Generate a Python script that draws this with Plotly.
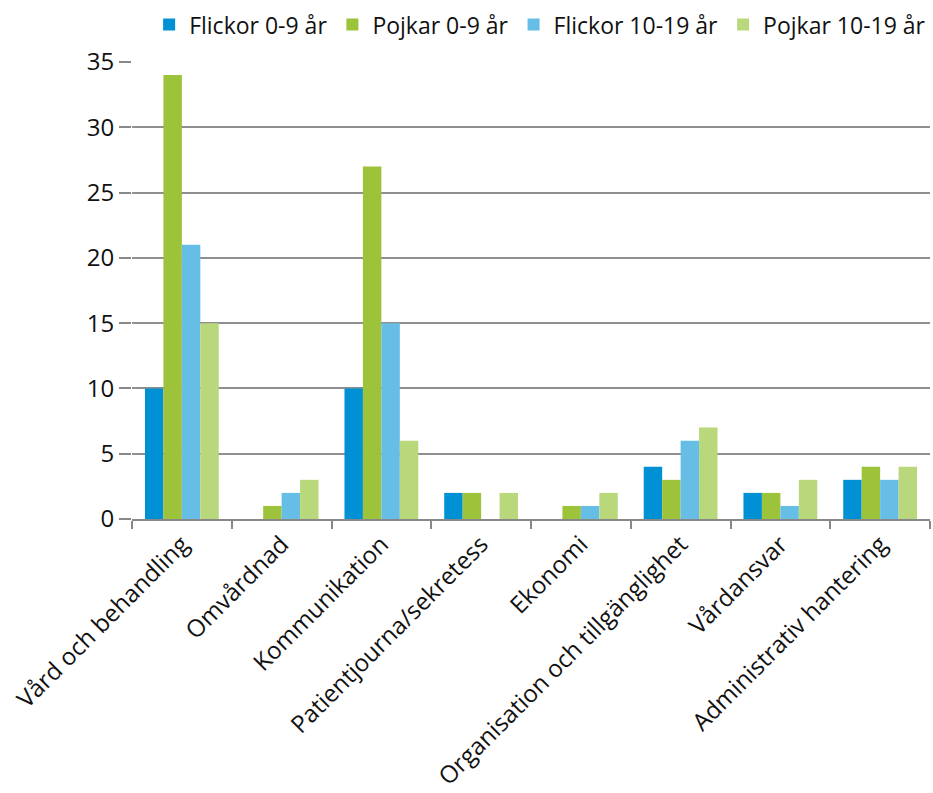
import plotly.graph_objects as go

categories = ["Vård och behandling", "Omvårdnad", "Kommunikation", "Patientjourna/sekretess",
              "Ekonomi", "Organisation och tillgänglighet", "Vårdansvar", "Administrativ hantering"]
series_names = ["Flickor 0-9 år", "Pojkar 0-9 år", "Flickor 10-19 år", "Pojkar 10-19 år"]
flickor_0_9 = [10, 0, 10, 2, 0, 4, 2, 3]
pojkar_0_9 = [34, 1, 27, 2, 1, 3, 2, 4]
flickor_10_19 = [21, 2, 15, 0, 1, 6, 1, 3]
pojkar_10_19 = [15, 3, 6, 2, 2, 7, 3, 4]
colors = ["#0091D4", "#9DC33B", "#66BDE6", "#B8D87B"]

fig = go.Figure()
for name, vals, c in zip(series_names, [flickor_0_9, pojkar_0_9, flickor_10_19, pojkar_10_19], colors):
    fig.add_trace(go.Bar(x=categories, y=vals, name=name, marker_color=c, marker_line_width=0))

font = "Open Sans, Noto Sans, sans-serif"
fig.update_layout(
    width=933, height=793,
    margin=dict(l=132, r=3, t=62, b=274, autoexpand=False),
    paper_bgcolor="white", plot_bgcolor="white",
    barmode="group", bargap=0.26, bargroupgap=0,
    font=dict(family=font, size=24, color="#111"),
    legend=dict(orientation="h", x=0.998, xanchor="right", y=0.996, yanchor="top",
                yref="container", xref="container",
                font=dict(size=23), itemwidth=30, traceorder="normal",
                tracegroupgap=0),
    xaxis=dict(showline=True, linecolor="#888", linewidth=1.5, ticks="outside",
               tickson="boundaries", ticklen=8, tickcolor="#888", tickwidth=1.5,
               tickangle=-45, tickfont=dict(size=24)),
    yaxis=dict(range=[0, 35], dtick=5, showgrid=True, gridcolor="#8f8f8f", gridwidth=1.5,
               ticks="outside", ticklen=12, tickcolor="#888", tickwidth=1.5,
               zeroline=False, showline=False, tickfont=dict(size=24)),
)
fig.write_html("out.html")
